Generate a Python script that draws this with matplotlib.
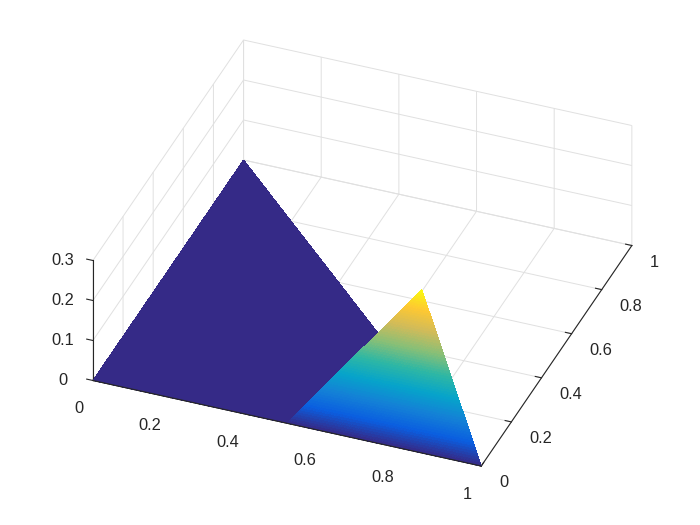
import matplotlib
matplotlib.use('Agg')
import matplotlib.pyplot as plt
import matplotlib.tri as mtri
from matplotlib.colors import LinearSegmentedColormap

plt.rcParams['font.family'] = ['Liberation Sans', 'DejaVu Sans']
plt.rcParams['font.size'] = 11.8

# surface corners
base_x = [0, 1, 0]
base_y = [0, 0, 1]
base_z = [0, 0, 0]
wedge_x = [0.5, 1, 0.75]
wedge_y = [0, 0, 0.25]
wedge_z = [0, 0, 0.25]

xy_ticks = [0, 0.2, 0.4, 0.6, 0.8, 1]
xy_labels = ['0', '0.2', '0.4', '0.6', '0.8', '1']
z_ticks = [0, 0.1, 0.2, 0.3]
z_labels = ['0', '0.1', '0.2', '0.3']

# parula, sampled by eye
parula_colors = ['#352a87', '#0a5ee0', '#1481d6', '#06a4ca', '#2eb7a4',
                 '#87bf77', '#d1bb59', '#fec832', '#f9fb0e']
parula = LinearSegmentedColormap.from_list('parula', parula_colors)

fig = plt.figure(figsize=(7, 5.25), dpi=100)
ax = fig.add_axes([5.3 / 700, 2.4 / 525, 1, 1], projection='3d', proj_type='ortho',
                  computed_zorder=False)
ax.view_init(elev=34.6, azim=-68.8)
ax.set_box_aspect((1, 1, 0.35), zoom=1.122)

base = ax.plot_trisurf(base_x, base_y, base_z, color='#352a87', shade=False,
                       linewidth=0, antialiased=False, zorder=2)

# refine so the colours run smoothly up the wedge
tri = mtri.Triangulation(wedge_x, wedge_y)
fine_tri, fine_z = mtri.UniformTriRefiner(tri).refine_field(wedge_z, subdiv=6)
surf = ax.plot_trisurf(fine_tri, fine_z, cmap=parula, vmin=0, vmax=0.25,
                       shade=False, linewidth=0, antialiased=False, zorder=3)
base.set_clip_on(False)
surf.set_clip_on(False)

# axis line sits on top of the surface edge
front, = ax.plot(base_x[:2], base_y[:2], base_z[:2], color='#262626', lw=0.8, zorder=4)
front.set_clip_on(False)

ax.set_xlim(0, 1, view_margin=0)
ax.set_ylim(0, 1, view_margin=0)
ax.set_zlim(0, 0.3, view_margin=0)
ax.set_xticks(xy_ticks, xy_labels)
ax.set_yticks(xy_ticks, xy_labels)
ax.set_zticks(z_ticks)

for axis in (ax.xaxis, ax.yaxis, ax.zaxis):
    axis.set_pane_color((1, 1, 1, 0))
    axis.pane.set_edgecolor('#c4c4c4')
    axis.pane.set_linewidth(0.7)
    axis.line.set_color('#262626')
    axis.line.set_linewidth(0.8)
    axis._axinfo['grid']['color'] = '#e0e0e0'
    axis._axinfo['grid']['linewidth'] = 0.7
    axis._axinfo['tick']['inward_factor'] = 0
    axis._axinfo['tick']['outward_factor'] = 0.2
ax.tick_params(colors='#262626', width=0.8, pad=2)
ax.tick_params(axis='x', pad=4)
ax.tick_params(axis='y', pad=1)
plt.setp(ax.get_xticklabels(), ha='right')
plt.setp(ax.get_yticklabels(), ha='left')
plt.setp(ax.get_zticklabels(), visible=False)

ax.zaxis._axinfo['juggled'] = (1, 2, 0)

# mplot3d pushes z tick labels too low, so place them by hand
for tick, label in zip(z_ticks, z_labels):
    ax.text(-0.067, -0.026, tick, label, ha='center', va='center', color='#262626')

fig.savefig('out.png', dpi=100)
